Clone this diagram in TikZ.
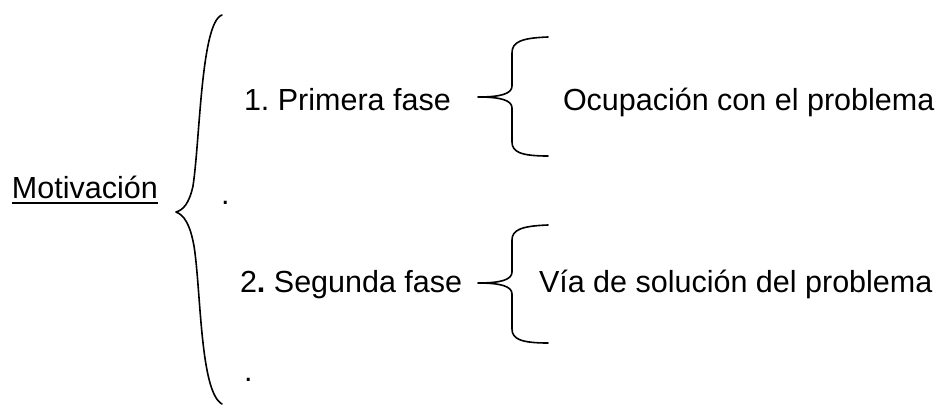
\documentclass[tikz,border=0pt]{standalone}
\usepackage{fontspec}
\setmainfont{Liberation Sans}
\frenchspacing
\begin{document}
\begin{tikzpicture}[x=1pt,y=-1pt,
  txt/.style={anchor=base west,inner sep=0pt,outer sep=0pt,font=\fontsize{30.5}{36}\selectfont},
  bracepath/.style={line width=1.6pt,line cap=round,line join=round}]
\useasboundingbox (0,0) rectangle (947,407);
% texts
\node[txt] (mot) at (12,198) {Motivación};
\node[txt] (dotA) at (221,204) {.};
\node[txt] (dotB) at (244,381) {.};
\node[txt] (p1) at (244,110) {1. Primera fase};
\node[txt] (p2) at (240,292) {2{\bfseries .} Segunda fase};
\node[txt] (o1) at (563,110) {Ocupación con el problema};
\node[txt] (v2) at (539,292) {Vía de solución del problema};
% underline
\draw[line width=1.3pt] ([yshift=-5pt]mot.base west) -- ([yshift=-5pt]mot.base east);
% big brace
\coordinate (bigtop) at (222,15);
\coordinate (bigtip) at (176,212);
\coordinate (bigbot) at (222,404);
\draw[bracepath] (bigtop) .. controls (201,22) and (200,140) .. (193,186)
  .. controls (189,204) and (183,210) .. (bigtip)
  .. controls (184,215) and (190,224) .. (194,246)
  .. controls (201,290) and (200,392) .. (bigbot);
% small brace 1
\coordinate (b1top) at (548,37);
\coordinate (b1tip) at (478,97);
\coordinate (b1bot) at (548,156);
\draw[bracepath] (b1top) .. controls (521,38) and (512,42) .. (512,53)
  -- (512,86) .. controls (512,94) and (500,97) .. (b1tip)
  .. controls (500,97) and (512,100) .. (512,108)
  -- (512,142) .. controls (512,152) and (521,156) .. (b1bot);
% small brace 2
\coordinate (b2top) at (548,225);
\coordinate (b2tip) at (478,283);
\coordinate (b2bot) at (548,343);
\draw[bracepath] (b2top) .. controls (521,226) and (512,230) .. (512,240)
  -- (512,272) .. controls (512,280) and (500,283) .. (b2tip)
  .. controls (500,283) and (512,286) .. (512,294)
  -- (512,329) .. controls (512,339) and (521,343) .. (b2bot);
\end{tikzpicture}
\end{document}
